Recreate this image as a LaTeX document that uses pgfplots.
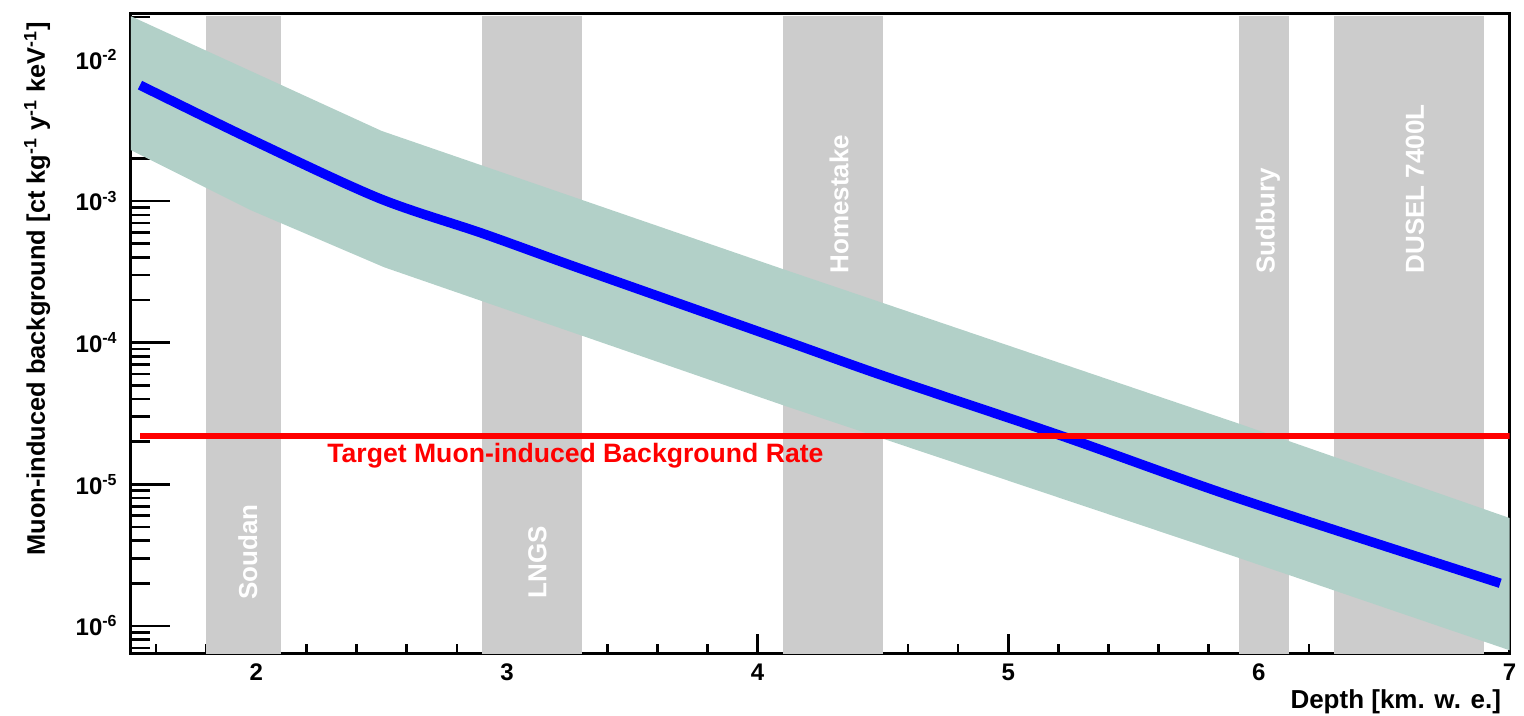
\documentclass[border=0pt]{standalone}
\usepackage{fontspec}
\setmainfont{Liberation Sans}
\usepackage{pgfplots}
\pgfplotsset{compat=1.18}
\definecolor{bandteal}{RGB}{178,208,200}
\definecolor{labgray}{RGB}{204,204,204}
\newcommand{\bigf}{\fontsize{13}{13}\selectfont\bfseries}
\newcommand{\redf}{\fontsize{13.3}{13.3}\selectfont\bfseries}
\newcommand{\ylabf}{\fontsize{12.7}{12.7}\selectfont\bfseries}
\newcommand{\tickf}{\fontsize{12}{12}\selectfont\bfseries}
\begin{document}
\begin{tikzpicture}
\begin{semilogyaxis}[
  scale only axis, width=689.25pt, height=320pt,
  xmin=1.5, xmax=7, ymin=6.4e-7, ymax=2.12e-2,
  axis line style={line width=1.5pt},
  tick pos=left, tick align=inside,
  xtick={2,3,4,5,6,7},
  xticklabels={2,3,4,5,6,7},
  minor xtick={1.6,1.8,2.2,2.4,2.6,2.8,3.2,3.4,3.6,3.8,4.2,4.4,4.6,4.8,5.2,5.4,5.6,5.8,6.2,6.4,6.6,6.8},
  ytick={1e-6,1e-5,1e-4,1e-3,1e-2},
  yticklabels={10\textsuperscript{-6},10\textsuperscript{-5},10\textsuperscript{-4},10\textsuperscript{-3},10\textsuperscript{-2}},
  minor ytick={7e-7,8e-7,9e-7,2e-6,3e-6,4e-6,5e-6,6e-6,7e-6,8e-6,9e-6,2e-5,3e-5,4e-5,5e-5,6e-5,7e-5,8e-5,9e-5,2e-4,3e-4,4e-4,5e-4,6e-4,7e-4,8e-4,9e-4,2e-3,3e-3,4e-3,5e-3,6e-3,7e-3,8e-3,9e-3,2e-2},
  major tick length=19.5pt, minor tick length=9.5pt,
  xtick style={/pgfplots/major tick length=9.5pt, /pgfplots/minor tick length=4.5pt},
  every tick/.style={line width=1.3pt, black},
  ticklabel style={font=\tickf},
  xticklabel style={anchor=base, yshift=-13.5pt},
  yticklabel style={anchor=east, inner sep=0pt, xshift=-6.5pt},
  xlabel={Depth [km. w. e.]},
  xlabel style={at={([xshift=-0.75pt,yshift=-27.5pt]rel axis cs:1,0)}, anchor=base east, font=\bigf},
  ylabel={Muon-induced background [ct kg\textsuperscript{-1} y\textsuperscript{-1} keV\textsuperscript{-1}]},
  ylabel style={at={([xshift=-43pt,yshift=-1pt]rel axis cs:0,1)}, anchor=base east, font=\ylabf},
]
% site bands
\addplot[fill=labgray, draw=none] coordinates {(1.80,5e-7) (2.10,5e-7) (2.10,2.02e-2) (1.80,2.02e-2)} -- cycle;
\addplot[fill=labgray, draw=none] coordinates {(2.90,5e-7) (3.30,5e-7) (3.30,2.02e-2) (2.90,2.02e-2)} -- cycle;
\addplot[fill=labgray, draw=none] coordinates {(4.10,5e-7) (4.50,5e-7) (4.50,2.02e-2) (4.10,2.02e-2)} -- cycle;
\addplot[fill=labgray, draw=none] coordinates {(5.92,5e-7) (6.12,5e-7) (6.12,2.02e-2) (5.92,2.02e-2)} -- cycle;
\addplot[fill=labgray, draw=none] coordinates {(6.30,5e-7) (6.90,5e-7) (6.90,2.02e-2) (6.30,2.02e-2)} -- cycle;
% uncertainty band
\addplot[fill=bandteal, draw=none] coordinates {
 (1.5,2.02e-2) (2.5,3.13e-3) (4.103,3.30e-4) (5.915,2.70e-5) (7,5.78e-6)
 (7,6.73e-7) (5.915,3.04e-6) (4.103,3.61e-5) (2.51,3.41e-4) (1.975,8.67e-4) (1.5,2.29e-3)} -- cycle;
% central curve
\addplot[blue, line width=4.75pt, smooth, tension=0.5] coordinates {
 (1.536,6.59e-3) (1.975,2.75e-3) (2.488,1.05e-3) (2.905,5.89e-4) (3.300,3.30e-4)
 (4.103,1.04e-4) (4.510,5.77e-5) (5.215,2.19e-5) (5.915,7.98e-6) (6.963,2.00e-6)};
% target line
\addplot[red, line width=3pt] coordinates {(1.536,2.18e-5) (7,2.18e-5)};
\node[anchor=base west, text=red, font=\redf, inner sep=0pt] at (axis cs:2.282,1.42e-5) {Target Muon-induced Background Rate};
\node[rotate=90, anchor=base west, text=white, font=\bigf, inner sep=0pt] at (axis cs:2.003,1.52e-6) {Soudan};
\node[rotate=90, anchor=base west, text=white, font=\bigf, inner sep=0pt] at (axis cs:3.157,1.55e-6) {LNGS};
\node[rotate=90, anchor=base west, text=white, font=\bigf, inner sep=0pt] at (axis cs:4.362,3.06e-4) {Homestake};
\node[rotate=90, anchor=base west, text=white, font=\bigf, inner sep=0pt] at (axis cs:6.063,3.06e-4) {Sudbury};
\node[rotate=90, anchor=base west, text=white, font=\bigf, inner sep=0pt] at (axis cs:6.658,3.06e-4) {DUSEL 7400L};
\end{semilogyaxis}
\pgfresetboundingbox
\path (current axis.south west) ++(-65.5pt,-31.35pt) rectangle ++(762pt,358pt);
\end{tikzpicture}
\end{document}
